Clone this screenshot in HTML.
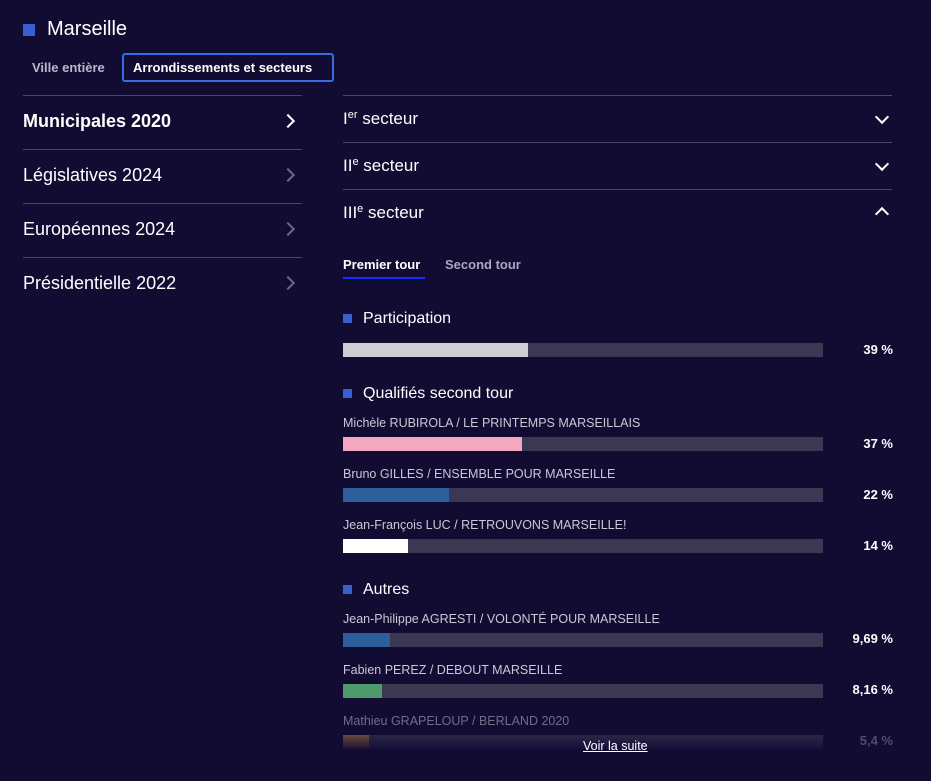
<!DOCTYPE html><html><head><style>
*{margin:0;padding:0;box-sizing:border-box}
body{width:931px;height:781px;background:#120c33;font-family:"Liberation Sans",sans-serif;color:#fff;position:relative;overflow:hidden}
.a{position:absolute;white-space:nowrap}
.hl{position:absolute;height:1px;background:#4a4766}
.sq{position:absolute;width:9px;height:9px;background:#3a5fd0}
.track{position:absolute;left:343px;width:480px;height:14px;background:#3a3853}
.fill{position:absolute;left:0;top:0;height:14px}
.lab{position:absolute;left:343px;font-size:12.5px;color:#c9c8d6}
.pct{position:absolute;right:38px;font-size:13px;font-weight:bold}
.chev{position:absolute;width:10px;height:10px;border-right:2.5px solid #fff;border-top:2.5px solid #fff}
sup{font-size:11px;vertical-align:0;position:relative;top:-6px}
</style></head><body>
<div class="sq" style="left:23px;top:24px;width:12px;height:12px"></div>
<div class="a" style="left:47px;top:18px;font-size:20px">Marseille</div>
<div class="a" style="left:32px;top:60px;font-size:13px;font-weight:bold;color:#b9b8cc">Ville entière</div>
<div class="a" style="left:122px;top:53px;width:212px;height:29px;border:2px solid #3a6be0;border-radius:3px;font-size:13px;font-weight:bold;padding:5px 0 0 9px">Arrondissements et secteurs</div>

<div class="hl" style="left:23px;width:279px;top:95px"></div>
<div class="hl" style="left:23px;width:279px;top:149px"></div>
<div class="hl" style="left:23px;width:279px;top:203px"></div>
<div class="hl" style="left:23px;width:279px;top:257px"></div>
<div class="a" style="left:23px;top:111px;font-size:18px;font-weight:bold">Municipales 2020</div>
<div class="a" style="left:23px;top:165px;font-size:18px">Législatives 2024</div>
<div class="a" style="left:23px;top:219px;font-size:18px">Européennes 2024</div>
<div class="a" style="left:23px;top:273px;font-size:18px">Présidentielle 2022</div>
<div class="chev" style="left:283px;top:116px;transform:rotate(45deg)"></div>
<div class="chev" style="left:283px;top:170px;transform:rotate(45deg);border-color:#6a6885"></div>
<div class="chev" style="left:283px;top:224px;transform:rotate(45deg);border-color:#6a6885"></div>
<div class="chev" style="left:283px;top:278px;transform:rotate(45deg);border-color:#6a6885"></div>

<div class="hl" style="left:343px;width:549px;top:95px"></div>
<div class="hl" style="left:343px;width:549px;top:142px"></div>
<div class="hl" style="left:343px;width:549px;top:189px"></div>
<div class="a" style="left:343px;top:109px;font-size:17px">I<sup>er</sup> secteur</div>
<div class="a" style="left:343px;top:156px;font-size:17px">II<sup>e</sup> secteur</div>
<div class="a" style="left:343px;top:203px;font-size:17px">III<sup>e</sup> secteur</div>
<div class="chev" style="left:877px;top:112px;transform:rotate(135deg)"></div>
<div class="chev" style="left:877px;top:159px;transform:rotate(135deg)"></div>
<div class="chev" style="left:877px;top:209px;transform:rotate(-45deg)"></div>

<div class="a" style="left:343px;top:257px;font-size:13px;font-weight:bold">Premier tour</div>
<div class="a" style="left:343px;top:277px;width:82px;height:2px;background:#1a2fff"></div>
<div class="a" style="left:445px;top:257px;font-size:13px;font-weight:bold;color:#a9a8bf">Second tour</div>

<div class="sq" style="left:343px;top:314px"></div>
<div class="a" style="left:363px;top:310px;font-size:16px">Participation</div>
<div class="track" style="top:343px"><div class="fill" style="width:185px;background:#cfcfd3"></div></div>
<div class="pct" style="top:342px">39 %</div>

<div class="sq" style="left:343px;top:389px"></div>
<div class="a" style="left:363px;top:385px;font-size:16px">Qualifiés second tour</div>
<div class="lab" style="top:416px">Michèle RUBIROLA / LE PRINTEMPS MARSEILLAIS</div>
<div class="track" style="top:437px"><div class="fill" style="width:179px;background:#f4a7c0"></div></div>
<div class="pct" style="top:436px">37 %</div>
<div class="lab" style="top:467px">Bruno GILLES / ENSEMBLE POUR MARSEILLE</div>
<div class="track" style="top:488px"><div class="fill" style="width:106px;background:#2c5f9a"></div></div>
<div class="pct" style="top:487px">22 %</div>
<div class="lab" style="top:518px">Jean-François LUC / RETROUVONS MARSEILLE!</div>
<div class="track" style="top:539px"><div class="fill" style="width:65px;background:#fff"></div></div>
<div class="pct" style="top:538px">14 %</div>

<div class="sq" style="left:343px;top:585px"></div>
<div class="a" style="left:363px;top:581px;font-size:16px">Autres</div>
<div class="lab" style="top:612px">Jean-Philippe AGRESTI / VOLONTÉ POUR MARSEILLE</div>
<div class="track" style="top:633px"><div class="fill" style="width:47px;background:#2c5f9a"></div></div>
<div class="pct" style="top:631px">9,69 %</div>
<div class="lab" style="top:663px">Fabien PEREZ / DEBOUT MARSEILLE</div>
<div class="track" style="top:684px"><div class="fill" style="width:39px;background:#4f9a6d"></div></div>
<div class="pct" style="top:682px">8,16 %</div>
<div class="lab" style="top:714px;color:#6f6d88">Mathieu GRAPELOUP / BERLAND 2020</div>
<div class="track" style="top:735px;background:linear-gradient(#2a2745,#15103a)"><div class="fill" style="width:26px;background:linear-gradient(#6a4a3a,#1a1236)"></div></div>
<div class="pct" style="top:733px;color:#4d4b66">5,4 %</div>
<div class="a" style="left:583px;top:739px;font-size:12.5px;text-decoration:underline">Voir la suite</div>
</body></html>
